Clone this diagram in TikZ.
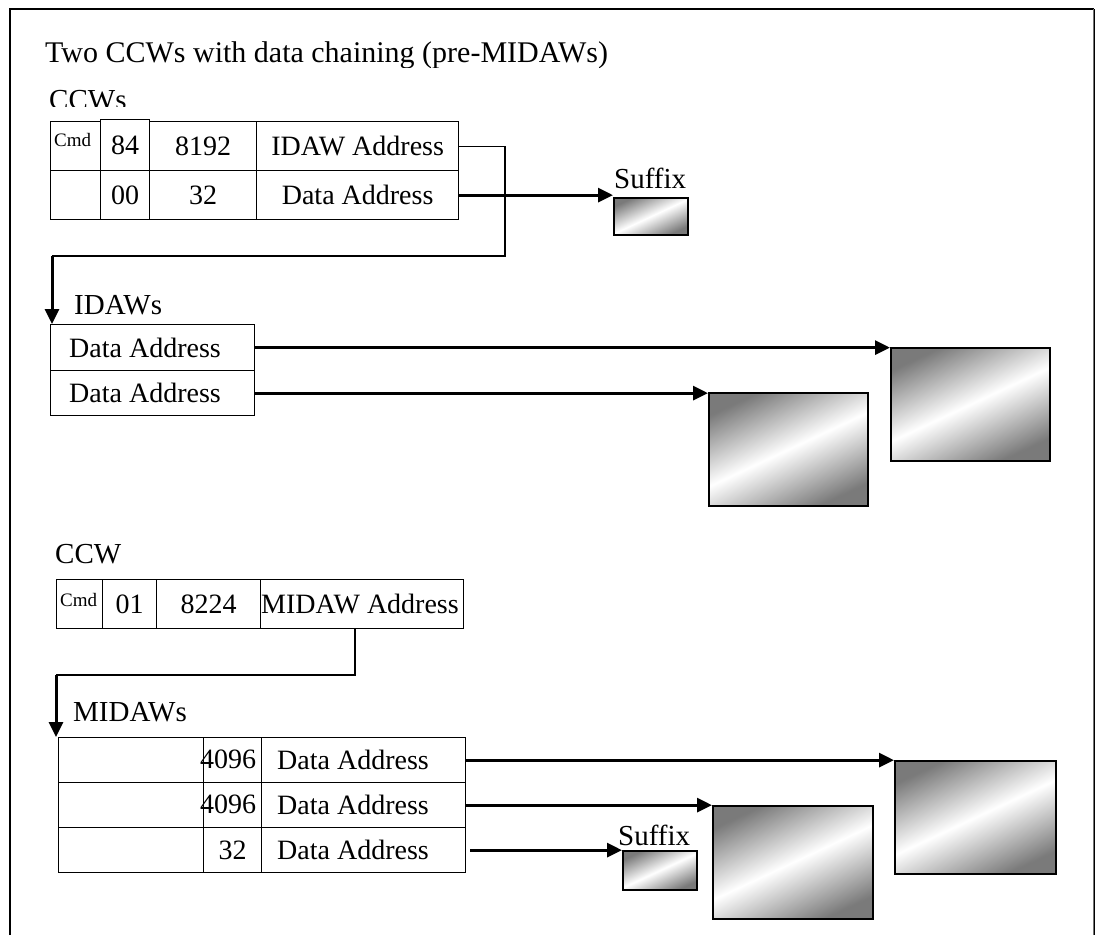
\documentclass[tikz,border=0pt]{standalone}
\usepackage{fontspec}
\setmainfont{Liberation Serif}
\usetikzlibrary{arrows.meta}
\newcommand\cellat[6]{\node[tbl,minimum width={(#4-#2)*1pt},minimum height={(#5-#3)*1pt}] (#1) at (#2,#3) {#6};}
\newcommand\blockat[5]{\node[blk,minimum width={(#4-#2)*1pt},minimum height={(#5-#3)*1pt}] (#1) at (#2,#3) {};}
\begin{document}
\begin{tikzpicture}[x=1pt,y=-1pt,
  tbl/.style={draw,line width=1.3pt,inner sep=0pt,anchor=north west,font=\fontsize{28}{31}\selectfont},
  txt/.style={inner sep=0pt,anchor=west,font=\fontsize{28}{31}\selectfont},
  lbl/.style={anchor=base west,inner sep=0pt,font=\fontsize{29}{32}\selectfont},
  small/.style={anchor=north west,inner sep=0pt,font=\fontsize{19}{21}\selectfont},
  data/.style={line width=3pt,-{Triangle[length=15pt,width=14pt]}},
  link/.style={line width=1.3pt},
  blk/.style={draw,line width=1.5pt,inner sep=0pt,anchor=north west,
    top color=black!52,bottom color=black!52,middle color=white,shading angle=25},
  frame/.style={line width=1.3pt}]
\useasboundingbox (0,0) rectangle (1101,935);
% frame
\draw[frame] (10,935) -- (10,9) -- (1094,9);
\draw[line width=2.6pt,black!55] (1094,9) -- (1094,935);
\draw[line width=1pt] (1094,9) -- (1094,935);
% title and clipped label
\begin{scope}
  \clip (0,0) rectangle (1101,67);
  \node[lbl,font=\fontsize{30}{33}\selectfont] (title) at (45,62) {Two CCWs with data chaining (pre-MIDAWs)};
\end{scope}
\begin{scope}
  \clip (0,70) rectangle (1101,106);
  \node[lbl] (ccwsl) at (49,109) {CCWs};
\end{scope}
% top CCW table
\cellat{c11}{50}{121}{100}{170}{}
\cellat{c12}{100}{119}{149}{170}{84}
\cellat{c13}{149}{121}{256}{170}{8192}
\cellat{c14}{256}{121}{458}{170}{IDAW Address}
\cellat{c21}{50}{170}{100}{219}{}
\cellat{c22}{100}{170}{149}{219}{00}
\cellat{c23}{149}{170}{256}{219}{32}
\cellat{c24}{256}{170}{458}{219}{Data Address}
\node[small] (cmd1) at (54,133) {Cmd};
% suffix 1
\blockat{suf1}{613}{197}{687}{234}
\node[lbl] (sufl1) at (614,188) {Suffix};
\draw[data] (c24.east) -- (c24.east -| suf1.west);
% link to IDAWs
\coordinate (k1) at (505,145);
\coordinate (k2) at (505,256);
\coordinate (k3) at (52,256);
\node[lbl] (idawsl) at (74,314) {IDAWs};
\cellat{i1}{50}{324}{254}{370}{}
\cellat{i2}{50}{370}{254}{415}{}
\node[txt,xshift=19pt] (i1t) at (i1.west) {Data Address};
\node[txt,xshift=19pt] (i2t) at (i2.west) {Data Address};
\draw[link] (c14.east) -- (c14.east -| k1) -- (k2) -- (k3);
\draw[data] (k3) -- (k3 |- i1.north);
% IDAW data blocks
\blockat{bA}{890}{347}{1049}{460}
\blockat{bB}{708}{392}{867}{505}
\draw[data] (i1.east) -- (i1.east -| bA.west);
\draw[data] (i2.east) -- (i2.east -| bB.west);
% middle CCW
\node[lbl] (ccwl) at (55,563) {CCW};
\cellat{m1}{56}{579}{102}{628}{}
\cellat{m2}{102}{579}{156}{628}{01}
\cellat{m3}{156}{579}{260}{628}{8224}
\cellat{m4}{260}{579}{463}{628}{}
\node[txt,xshift=1pt] (m4t) at (m4.west) {MIDAW Address};
\node[small] (cmd2) at (60,593) {Cmd};
% link to MIDAWs
\coordinate (n1) at (355,628);
\coordinate (n2) at (355,675);
\coordinate (n3) at (56,675);
\draw[link] (n1) -- (n2) -- (n3);
\node[lbl] (midawsl) at (73,721) {MIDAWs};
% MIDAW table
\cellat{d12}{203}{737}{261}{782}{}
\cellat{d13}{261}{737}{465}{782}{}
\cellat{d22}{203}{782}{261}{827}{}
\cellat{d23}{261}{782}{465}{827}{}
\cellat{d32}{203}{827}{261}{872}{32}
\cellat{d33}{261}{827}{465}{872}{}
\node[txt,xshift=16pt] (d13t) at (d13.west) {Data Address};
\node[txt,xshift=16pt] (d23t) at (d23.west) {Data Address};
\node[txt,xshift=16pt] (d33t) at (d33.west) {Data Address};
\node[tbl,draw=none,anchor=center] (n4096a) at (228,759.5) {4096};
\node[tbl,draw=none,anchor=center] (n4096b) at (228,804.5) {4096};
\cellat{d11}{58}{737}{203}{782}{}
\cellat{d21}{58}{782}{203}{827}{}
\cellat{d31}{58}{827}{203}{872}{}
\draw[data] (n3) -- (n3 |- d11.north);
% MIDAW data blocks
\blockat{bC}{894}{760}{1055}{873}
\blockat{bD}{712}{805}{872}{918}
\blockat{suf2}{622}{850}{696}{889}
\node[lbl] (sufl2) at (618,845) {Suffix};
\draw[data] (d13.east) -- (d13.east -| bC.west);
\draw[data] (d23.east) -- (d23.east -| bD.west);
\draw[data] ([xshift=4pt]d33.east) -- (d33.east -| suf2.west);
\end{tikzpicture}
\end{document}
